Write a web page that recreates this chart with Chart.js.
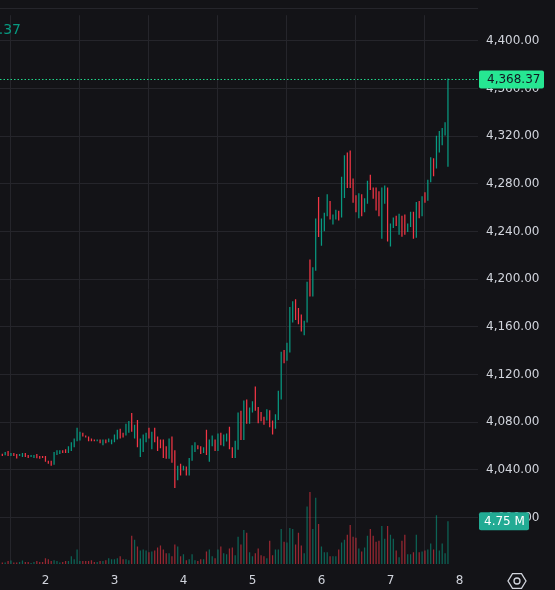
<!DOCTYPE html>
<html>
<head>
<meta charset="utf-8">
<script src="https://cdn.jsdelivr.net/npm/chart.js@4.4.1/dist/chart.umd.min.js"></script>
<style>
  html, body { margin: 0; padding: 0; background: #131317; }
  #wrap { width: 555px; height: 590px; position: relative; }
</style>
</head>
<body>
<div id="wrap"><canvas id="priceChart"></canvas></div>
<script>
// hourly candles, first one starts at hour 9 of day 1
var startHour = 9;
var dayTicks = [2, 3, 4, 5, 6, 7, 8];
var priceTicks = [4000, 4040, 4080, 4120, 4160, 4200, 4240, 4280, 4320, 4360, 4400];
var lastPrice = 4368.37;
var lastVolume = 4.75; // millions

var highs = [
  4053.6, 4055.0, 4055.8, 4054.2, 4054.2, 4053.4, 4053.4, 4054.2, 4054.2, 4052.5,
  4052.5, 4052.5, 4053.4, 4051.7, 4051.7, 4051.7, 4047.7, 4047.7, 4055.0, 4056.6,
  4056.6, 4056.6, 4057.4, 4059.9, 4063.2, 4066.4, 4075.4, 4072.1, 4071.3, 4068.9,
  4068.1, 4066.4, 4065.6, 4065.6, 4065.6, 4065.6, 4065.6, 4066.4, 4065.6, 4069.7,
  4073.8, 4074.6, 4071.3, 4078.7, 4081.1, 4087.7, 4077.9, 4081.9, 4066.4, 4069.7,
  4071.3, 4075.4, 4072.1, 4075.4, 4068.1, 4065.6, 4065.6, 4059.9, 4066.4, 4068.1,
  4056.6, 4043.6, 4045.2, 4043.6, 4042.8, 4050.1, 4060.7, 4063.2, 4060.7, 4059.9,
  4059.1, 4073.8, 4065.6, 4068.9, 4065.6, 4070.5, 4071.3, 4069.7, 4070.5, 4076.2,
  4059.1, 4064.5, 4088.2, 4089.6, 4098.3, 4099.1, 4092.3, 4097.7, 4110.0, 4092.8,
  4088.7, 4084.7, 4090.9, 4090.1, 4081.4, 4086.8, 4106.4, 4139.1, 4140.7, 4146.7,
  4176.6, 4181.5, 4183.2, 4175.8, 4170.4, 4165.2, 4197.8, 4216.6, 4210.1, 4250.9,
  4268.9, 4250.9, 4255.8, 4271.3, 4265.6, 4254.2, 4258.3, 4257.4, 4286.0, 4304.0,
  4306.4, 4308.0, 4284.4, 4270.5, 4272.1, 4271.3, 4268.0, 4282.7, 4287.6, 4277.0,
  4277.0, 4273.8, 4277.0, 4278.6, 4277.0, 4246.8, 4251.7, 4253.3, 4255.0, 4253.3,
  4254.2, 4246.8, 4256.6, 4256.6, 4264.8, 4265.6, 4269.7, 4272.9, 4283.5, 4302.3,
  4301.5, 4320.3, 4324.4, 4326.8, 4331.7, 4368.37
];

var lows = [
  4051.7, 4052.3, 4051.7, 4051.7, 4051.7, 4049.6, 4051.7, 4050.9, 4050.9, 4050.1,
  4050.9, 4050.1, 4049.8, 4049.3, 4050.1, 4046.8, 4045.2, 4043.6, 4044.4, 4052.6,
  4053.4, 4054.2, 4054.2, 4054.2, 4055.8, 4059.1, 4064.0, 4064.8, 4068.1, 4067.2,
  4064.0, 4064.0, 4064.0, 4064.0, 4062.3, 4060.7, 4062.3, 4063.2, 4061.5, 4063.2,
  4065.6, 4066.4, 4067.2, 4068.9, 4071.3, 4072.1, 4066.4, 4059.1, 4050.9, 4055.0,
  4063.2, 4066.4, 4057.4, 4063.2, 4055.8, 4058.3, 4050.1, 4049.3, 4049.3, 4046.0,
  4024.8, 4031.3, 4035.4, 4039.5, 4035.4, 4035.4, 4047.7, 4055.0, 4057.4, 4053.4,
  4054.2, 4052.6, 4046.8, 4059.9, 4055.8, 4055.8, 4060.7, 4059.9, 4063.9, 4057.4,
  4050.1, 4050.1, 4057.0, 4065.1, 4065.1, 4078.7, 4078.7, 4088.2, 4089.6, 4079.2,
  4080.8, 4077.9, 4081.4, 4075.9, 4069.7, 4074.6, 4081.9, 4099.1, 4129.6, 4131.7,
  4138.5, 4163.6, 4165.7, 4162.2, 4156.2, 4152.9, 4163.6, 4185.6, 4185.6, 4207.1,
  4235.4, 4228.1, 4240.3, 4252.8, 4250.1, 4246.0, 4250.1, 4249.3, 4251.7, 4268.1,
  4276.5, 4276.5, 4264.2, 4256.1, 4251.2, 4252.8, 4256.1, 4263.4, 4274.8, 4267.5,
  4257.7, 4252.8, 4234.0, 4263.4, 4231.6, 4227.5, 4243.0, 4244.6, 4237.3, 4235.7,
  4237.3, 4239.7, 4243.8, 4234.0, 4234.8, 4251.2, 4252.8, 4264.2, 4265.9, 4281.4,
  4286.3, 4292.8, 4306.4, 4312.4, 4320.5, 4294.4
];

// g = closed up, r = closed down
var moves =
  "rgrgrrggrr" + "ggrrrrrrgg" + "grrgggggrr" + "rrrgrgrggg" + "grrggrgrgg" +
  "grgrrrrrgr" + "rgrgrgggrr" + "grggrgrggr" + "rggrgrggrr" + "rrgrrgggrg" +
  "ggrrrggrgg" + "rgggrggrgg" + "rrrrgrggrr" + "rrggrggrgr" + "rggrgrgrgg" +
  "rggggg";

// volume in millions
var volumes = [
  0.18, 0.18, 0.32, 0.40, 0.18, 0.18, 0.22, 0.40, 0.22, 0.22,
  0.11, 0.22, 0.32, 0.22, 0.22, 0.65, 0.54, 0.32, 0.43, 0.32,
  0.18, 0.22, 0.32, 0.32, 0.86, 0.54, 1.62, 0.32, 0.32, 0.32,
  0.32, 0.43, 0.22, 0.22, 0.32, 0.32, 0.43, 0.65, 0.54, 0.54,
  0.65, 0.86, 0.54, 0.54, 0.43, 3.13, 2.70, 1.94, 1.51, 1.62,
  1.51, 1.30, 1.40, 1.51, 1.84, 2.05, 1.62, 1.19, 1.19, 0.86,
  2.16, 1.94, 0.86, 1.08, 0.43, 0.54, 1.08, 0.43, 0.32, 0.54,
  0.54, 1.40, 1.62, 0.86, 0.65, 1.62, 1.94, 1.19, 1.08, 1.73,
  1.84, 0.97, 3.02, 2.16, 3.78, 3.46, 1.30, 0.86, 1.19, 1.73,
  0.97, 0.86, 0.65, 2.59, 0.97, 1.62, 1.62, 3.89, 2.48, 2.38,
  4.00, 3.89, 2.16, 3.46, 2.05, 1.19, 6.37, 7.99, 3.89, 7.34,
  4.43, 1.94, 1.30, 1.30, 0.86, 0.86, 0.86, 1.62, 2.38, 2.70,
  3.24, 4.32, 3.02, 2.92, 1.73, 1.40, 1.84, 3.13, 3.89, 3.13,
  2.48, 2.59, 4.21, 2.81, 4.21, 3.24, 2.81, 1.51, 0.76, 2.59,
  3.24, 1.08, 1.08, 1.30, 3.24, 1.30, 1.40, 1.51, 1.62, 2.27,
  1.62, 5.40, 1.51, 2.27, 1.19, 4.75
];

var UP = "#089981";
var DOWN = "#f23645";
var UP_VOL = "rgba(8, 153, 129, 0.6)";
var DOWN_VOL = "rgba(242, 54, 69, 0.6)";
var TEXT = "#d1d4dc";
var GRID = "#25252b";
var FONT = "'DejaVu Sans', sans-serif";

var candleData = [];
var volumeData = [];
var candleColors = [];
var volumeColors = [];
highs.forEach(function (h, i) {
  var up = moves.charAt(i) === "g";
  candleData.push({ x: startHour + i, y: [lows[i], h] });
  volumeData.push({ x: startHour + i, y: volumes[i] });
  candleColors.push(up ? UP : DOWN);
  volumeColors.push(up ? UP_VOL : DOWN_VOL);
});

function fmtPrice(v) {
  return v.toLocaleString("en-US", { minimumFractionDigits: 2, maximumFractionDigits: 2 });
}

var overlay = {
  id: "overlay",
  afterDraw: function (chart) {
    var ctx = chart.ctx;
    var area = chart.chartArea;
    var yPrice = chart.scales.y;
    var yVol = chart.scales.vol;
    ctx.save();

    // thin separator at the top
    ctx.strokeStyle = GRID;
    ctx.lineWidth = 1;
    ctx.beginPath();
    ctx.moveTo(0, 8.5);
    ctx.lineTo(area.right, 8.5);
    ctx.stroke();

    // legend close value, clipped at the left edge
    ctx.fillStyle = UP;
    ctx.font = "14px " + FONT;
    ctx.textAlign = "right";
    ctx.textBaseline = "middle";
    ctx.fillText("C" + fmtPrice(lastPrice), 21, 30);

    // last price line and label
    var py = Math.round(yPrice.getPixelForValue(lastPrice)) + 0.5;
    ctx.strokeStyle = "#1fd68a";
    ctx.setLineDash([1.5, 2]);
    ctx.beginPath();
    ctx.moveTo(area.left, py);
    ctx.lineTo(area.right, py);
    ctx.stroke();
    ctx.setLineDash([]);

    ctx.fillStyle = "#26e692";
    ctx.beginPath();
    ctx.roundRect(area.right + 1, py - 9, 65, 18, 2);
    ctx.fill();
    ctx.fillStyle = "#131722";
    ctx.font = "12px " + FONT;
    ctx.textAlign = "left";
    ctx.fillText(fmtPrice(lastPrice), area.right + 9, py + 0.5);

    // last volume label
    var vy = yVol.getPixelForValue(lastVolume);
    ctx.fillStyle = "#22ab94";
    ctx.beginPath();
    ctx.roundRect(area.right + 1, vy - 9, 50, 18, 2);
    ctx.fill();
    ctx.fillStyle = "#ffffff";
    ctx.fillText(lastVolume.toFixed(2) + " M", area.right + 6, vy + 0.5);

    // settings icon under the price axis
    var cx = 517, cy = 581, r = 9;
    ctx.strokeStyle = TEXT;
    ctx.lineWidth = 1.3;
    ctx.beginPath();
    for (var k = 0; k < 6; k++) {
      var a = (Math.PI / 3) * k;
      var px = cx + r * Math.cos(a);
      var qy = cy + r * Math.sin(a) * 0.95;
      if (k === 0) ctx.moveTo(px, qy);
      else ctx.lineTo(px, qy);
    }
    ctx.closePath();
    ctx.stroke();
    ctx.beginPath();
    ctx.arc(cx, cy, 3, 0, Math.PI * 2);
    ctx.stroke();

    ctx.restore();
  },
};

var ctx = document.getElementById("priceChart").getContext("2d");
var priceChart = new Chart(ctx, {
  type: "bar",
  data: {
    datasets: [
      {
        label: "Volume",
        data: volumeData,
        yAxisID: "vol",
        backgroundColor: volumeColors,
        maxBarThickness: 1.25,
        grouped: false,
        order: 2,
      },
      {
        label: "Price",
        data: candleData,
        yAxisID: "y",
        backgroundColor: candleColors,
        maxBarThickness: 1.25,
        grouped: false,
        minBarLength: 1,
        order: 1,
      },
    ],
  },
  options: {
    responsive: true,
    maintainAspectRatio: false,
    animation: false,
    layout: { padding: 0 },
    plugins: {
      legend: { display: false },
      tooltip: { enabled: false },
    },
    scales: {
      x: {
        type: "linear",
        offset: false,
        min: 8.19,
        max: 174.45,
        afterBuildTicks: function (scale) {
          scale.ticks = dayTicks.map(function (d) {
            return { value: (d - 1) * 24 };
          });
        },
        afterFit: function (scale) {
          scale.height = 26;
        },
        ticks: {
          color: TEXT,
          font: { family: FONT, size: 12 },
          padding: 10,
          maxRotation: 0,
          callback: function (value) {
            return String(value / 24 + 1);
          },
        },
        grid: { color: GRID, drawTicks: false },
        border: { display: false },
      },
      y: {
        position: "right",
        min: 3961.1,
        max: 4421.5,
        afterBuildTicks: function (scale) {
          scale.ticks = priceTicks.map(function (v) {
            return { value: v };
          });
        },
        afterFit: function (scale) {
          scale.width = 77;
        },
        ticks: {
          color: TEXT,
          font: { family: FONT, size: 12 },
          padding: 8,
          callback: function (value) {
            return fmtPrice(value);
          },
        },
        grid: { color: GRID, drawTicks: false },
        border: { display: false },
      },
      vol: {
        display: false,
        min: 0,
        max: 60.9,
      },
    },
  },
  plugins: [overlay],
});
</script>
</body>
</html>
